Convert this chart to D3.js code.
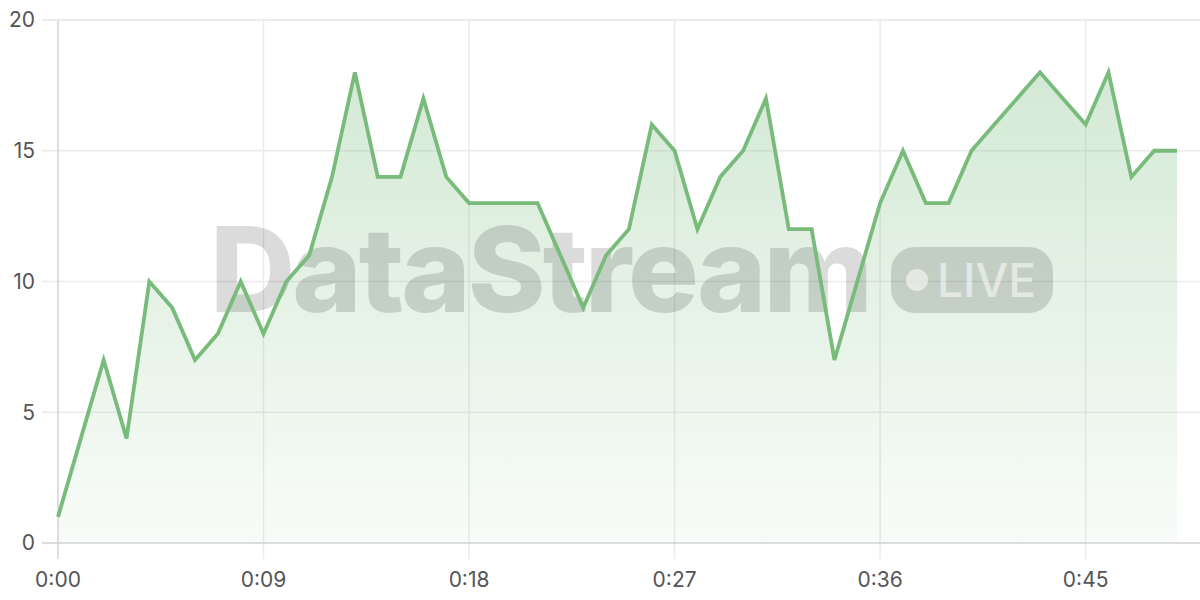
<!DOCTYPE html>
<html>
<head>
<meta charset="utf-8">
<script src="https://cdn.jsdelivr.net/npm/d3@7"></script>
<style>
  html, body { margin: 0; padding: 0; background: #fff; }
  svg { display: block; font-family: Inter, "Noto Sans", sans-serif; }
</style>
</head>
<body>
<div id="chart"></div>
<script>
// Seconds elapsed (x) and sampled value (y)
const seconds = d3.range(0, 50);
const values = [
  1, 4, 7, 4, 10, 9, 7, 8, 10, 8,
  10, 11, 14, 18, 14, 14, 17, 14, 13, 13,
  13, 13, 11, 9, 11, 12, 16, 15, 12, 14,
  15, 17, 12, 12, 7, 10, 13, 15, 13, 13,
  15, 16, 17, 18, 17, 16, 18, 14, 15, 15
];
const xTicks = [0, 9, 18, 27, 36, 45];
const yTicks = [0, 5, 10, 15, 20];

const width = 1200, height = 600;
const margin = { top: 20, right: 23, bottom: 57, left: 58 };
const lineColor = '#78bb7b';

const svg = d3.select('#chart').append('svg')
  .attr('width', width)
  .attr('height', height);

const x = d3.scaleLinear().domain([0, 49]).range([margin.left, width - margin.right]);
const y = d3.scaleLinear().domain([0, 20]).range([height - margin.bottom, margin.top]);

const fmt = s => Math.floor(s / 60) + ':' + String(s % 60).padStart(2, '0');

// gradient for area
const defs = svg.append('defs');
const grad = defs.append('linearGradient')
  .attr('id', 'areaGrad')
  .attr('x1', 0).attr('y1', 0).attr('x2', 0).attr('y2', 1);
grad.append('stop').attr('offset', '0%').attr('stop-color', lineColor).attr('stop-opacity', 0.32);
grad.append('stop').attr('offset', '100%').attr('stop-color', lineColor).attr('stop-opacity', 0.05);

// horizontal grid
svg.append('g')
  .selectAll('line')
  .data(yTicks.filter(d => d > 0))
  .join('line')
  .attr('x1', margin.left - 16)
  .attr('x2', width)
  .attr('y1', d => y(d))
  .attr('y2', d => y(d))
  .attr('stroke', '#ebebeb')
  .attr('stroke-width', 1.5);

// vertical grid
svg.append('g')
  .selectAll('line')
  .data(xTicks.filter(d => d > 0))
  .join('line')
  .attr('x1', d => x(d))
  .attr('x2', d => x(d))
  .attr('y1', margin.top)
  .attr('y2', height - margin.bottom + 16)
  .attr('stroke', '#ebebeb')
  .attr('stroke-width', 1.5);

// area
const data = seconds.map((s, i) => ({ s, v: values[i] }));
svg.append('path')
  .datum(data)
  .attr('fill', 'url(#areaGrad)')
  .attr('d', d3.area().x(d => x(d.s)).y0(y(0)).y1(d => y(d.v)));

// watermark
const wm = svg.append('g').attr('pointer-events', 'none');
wm.append('text')
  .attr('x', 210)
  .attr('y', 312)
  .style('font-size', '118px')
  .style('font-weight', 800)
  .style('letter-spacing', '-3px')
  .attr('fill', 'rgba(0,0,0,0.14)')
  .text('DataStream');
wm.append('rect')
  .attr('x', 891)
  .attr('y', 247)
  .attr('width', 162)
  .attr('height', 66)
  .attr('rx', 24)
  .attr('fill', 'rgba(0,0,0,0.14)');
wm.append('circle')
  .attr('cx', 917)
  .attr('cy', 280)
  .attr('r', 11)
  .attr('fill', 'rgba(255,255,255,0.55)');
wm.append('text')
  .attr('x', 937)
  .attr('y', 297)
  .style('font-size', '46px')
  .style('font-weight', 500)
  .attr('fill', 'rgba(255,255,255,0.55)')
  .text('LIVE');

// axis lines
svg.append('line')
  .attr('x1', margin.left).attr('x2', margin.left)
  .attr('y1', margin.top).attr('y2', height - margin.bottom + 16)
  .attr('stroke', '#d2d2d2').attr('stroke-width', 1.5);
svg.append('line')
  .attr('x1', margin.left - 16).attr('x2', width)
  .attr('y1', y(0)).attr('y2', y(0))
  .attr('stroke', '#d2d2d2').attr('stroke-width', 1.5);
svg.append('line')
  .attr('x1', margin.left - 16).attr('x2', width)
  .attr('y1', y(20)).attr('y2', y(20))
  .attr('stroke', '#ebebeb').attr('stroke-width', 1.5);

// line
svg.append('path')
  .datum(data)
  .attr('fill', 'none')
  .attr('stroke', lineColor)
  .attr('stroke-width', 3.8)
  .attr('stroke-linejoin', 'miter')
  .attr('d', d3.line().x(d => x(d.s)).y(d => y(d.v)));

// tick labels
svg.append('g')
  .selectAll('text')
  .data(yTicks)
  .join('text')
  .attr('x', 35)
  .attr('y', d => y(d))
  .attr('dy', '0.35em')
  .attr('text-anchor', 'end')
  .style('font-size', '21px')
  .attr('fill', '#555')
  .text(d => d);

svg.append('g')
  .selectAll('text')
  .data(xTicks)
  .join('text')
  .attr('x', d => x(d))
  .attr('y', 580)
  .attr('dy', '0.35em')
  .attr('text-anchor', 'middle')
  .style('font-size', '21px')
  .attr('fill', '#555')
  .text(d => fmt(d));
</script>
</body>
</html>
